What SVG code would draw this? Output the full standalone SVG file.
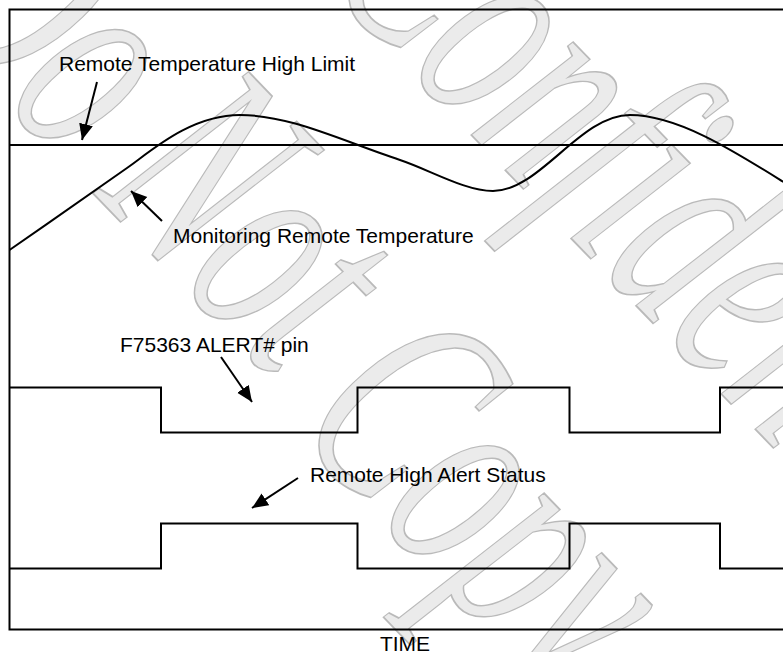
<svg xmlns="http://www.w3.org/2000/svg" width="783" height="652" viewBox="0 0 783 652">
  <style>
    .wm { font-family: "Liberation Serif", "DejaVu Serif", serif; font-style: italic; font-size: 300px; fill: #ebebeb; stroke: #bababa; stroke-width: 1.5; }
    .lbl { font-family: "Liberation Sans", Arial, sans-serif; font-size: 21px; fill: #000; }
    .ln { fill: none; stroke: #000; stroke-width: 2; }
    .arr { fill: none; stroke: #000; stroke-width: 2; marker-end: url(#ah); }
  </style>
  <defs>
    <marker id="ah" markerUnits="userSpaceOnUse" markerWidth="18" markerHeight="16" refX="16" refY="7" orient="auto">
      <path d="M0,0 L16,7 L0,14 Z" fill="#000"/>
    </marker>
  </defs>
  <rect width="783" height="652" fill="#fff"/>
  <g id="watermark">
    <text class="wm" vector-effect="non-scaling-stroke" transform="translate(-89,6) rotate(46) scale(0.6,1)">Do</text>
    <text class="wm" vector-effect="non-scaling-stroke" transform="translate(93.8,194.2) rotate(46) scale(0.6,1)">Not</text>
    <text class="wm" vector-effect="non-scaling-stroke" transform="translate(290.8,429.2) rotate(46) scale(0.6,1)">Copy</text>
    <text class="wm" vector-effect="non-scaling-stroke" transform="translate(320.8,-20.8) rotate(46) scale(0.6,1)">Confidential</text>
  </g>
  <g id="frame">
    <path class="ln" d="M790,9.5 H9.5 V629.5 H790"/>
  </g>
  <g id="high-limit">
    <path class="ln" d="M9.5,145 H790" stroke-width="1.8"/>
  </g>
  <g id="temperature">
    <path class="ln" d="M9.5,250 C50,222 100,187 127,168 C150,152 190,115 240,115 C290,115 340,140 400,160 C430,170 465,191 493,191 C540,191 580,115 630,115 C680,115 740,155 790,186"/>
  </g>
  <g id="alert-pin">
    <path class="ln" d="M9.5,387.5 H161 V432.5 H357.5 V387.5 H569.5 V432.5 H720 V387.5 H790"/>
  </g>
  <g id="alert-status">
    <path class="ln" d="M9.5,568.5 H161 V523.5 H357.5 V568.5 H569.5 V523.5 H720 V568.5 H790"/>
  </g>
  <g id="labels">
    <text id="lbl-limit" class="lbl" x="59" y="71">Remote Temperature High Limit</text>
    <text id="lbl-monitor" class="lbl" x="173" y="243">Monitoring Remote Temperature</text>
    <text id="lbl-pin" class="lbl" x="120" y="352">F75363 ALERT# pin</text>
    <text id="lbl-status" class="lbl" x="310" y="482">Remote High Alert Status</text>
    <text id="lbl-time" class="lbl" x="405" y="651" text-anchor="middle">TIME</text>
  </g>
  <g id="connectors">
    <path class="arr" d="M97,82 L82,140"/>
    <path class="arr" d="M162,221 L131,191"/>
    <path class="arr" d="M221,357 L252,402"/>
    <path class="arr" d="M298,478 L252,508"/>
  </g>
</svg>
